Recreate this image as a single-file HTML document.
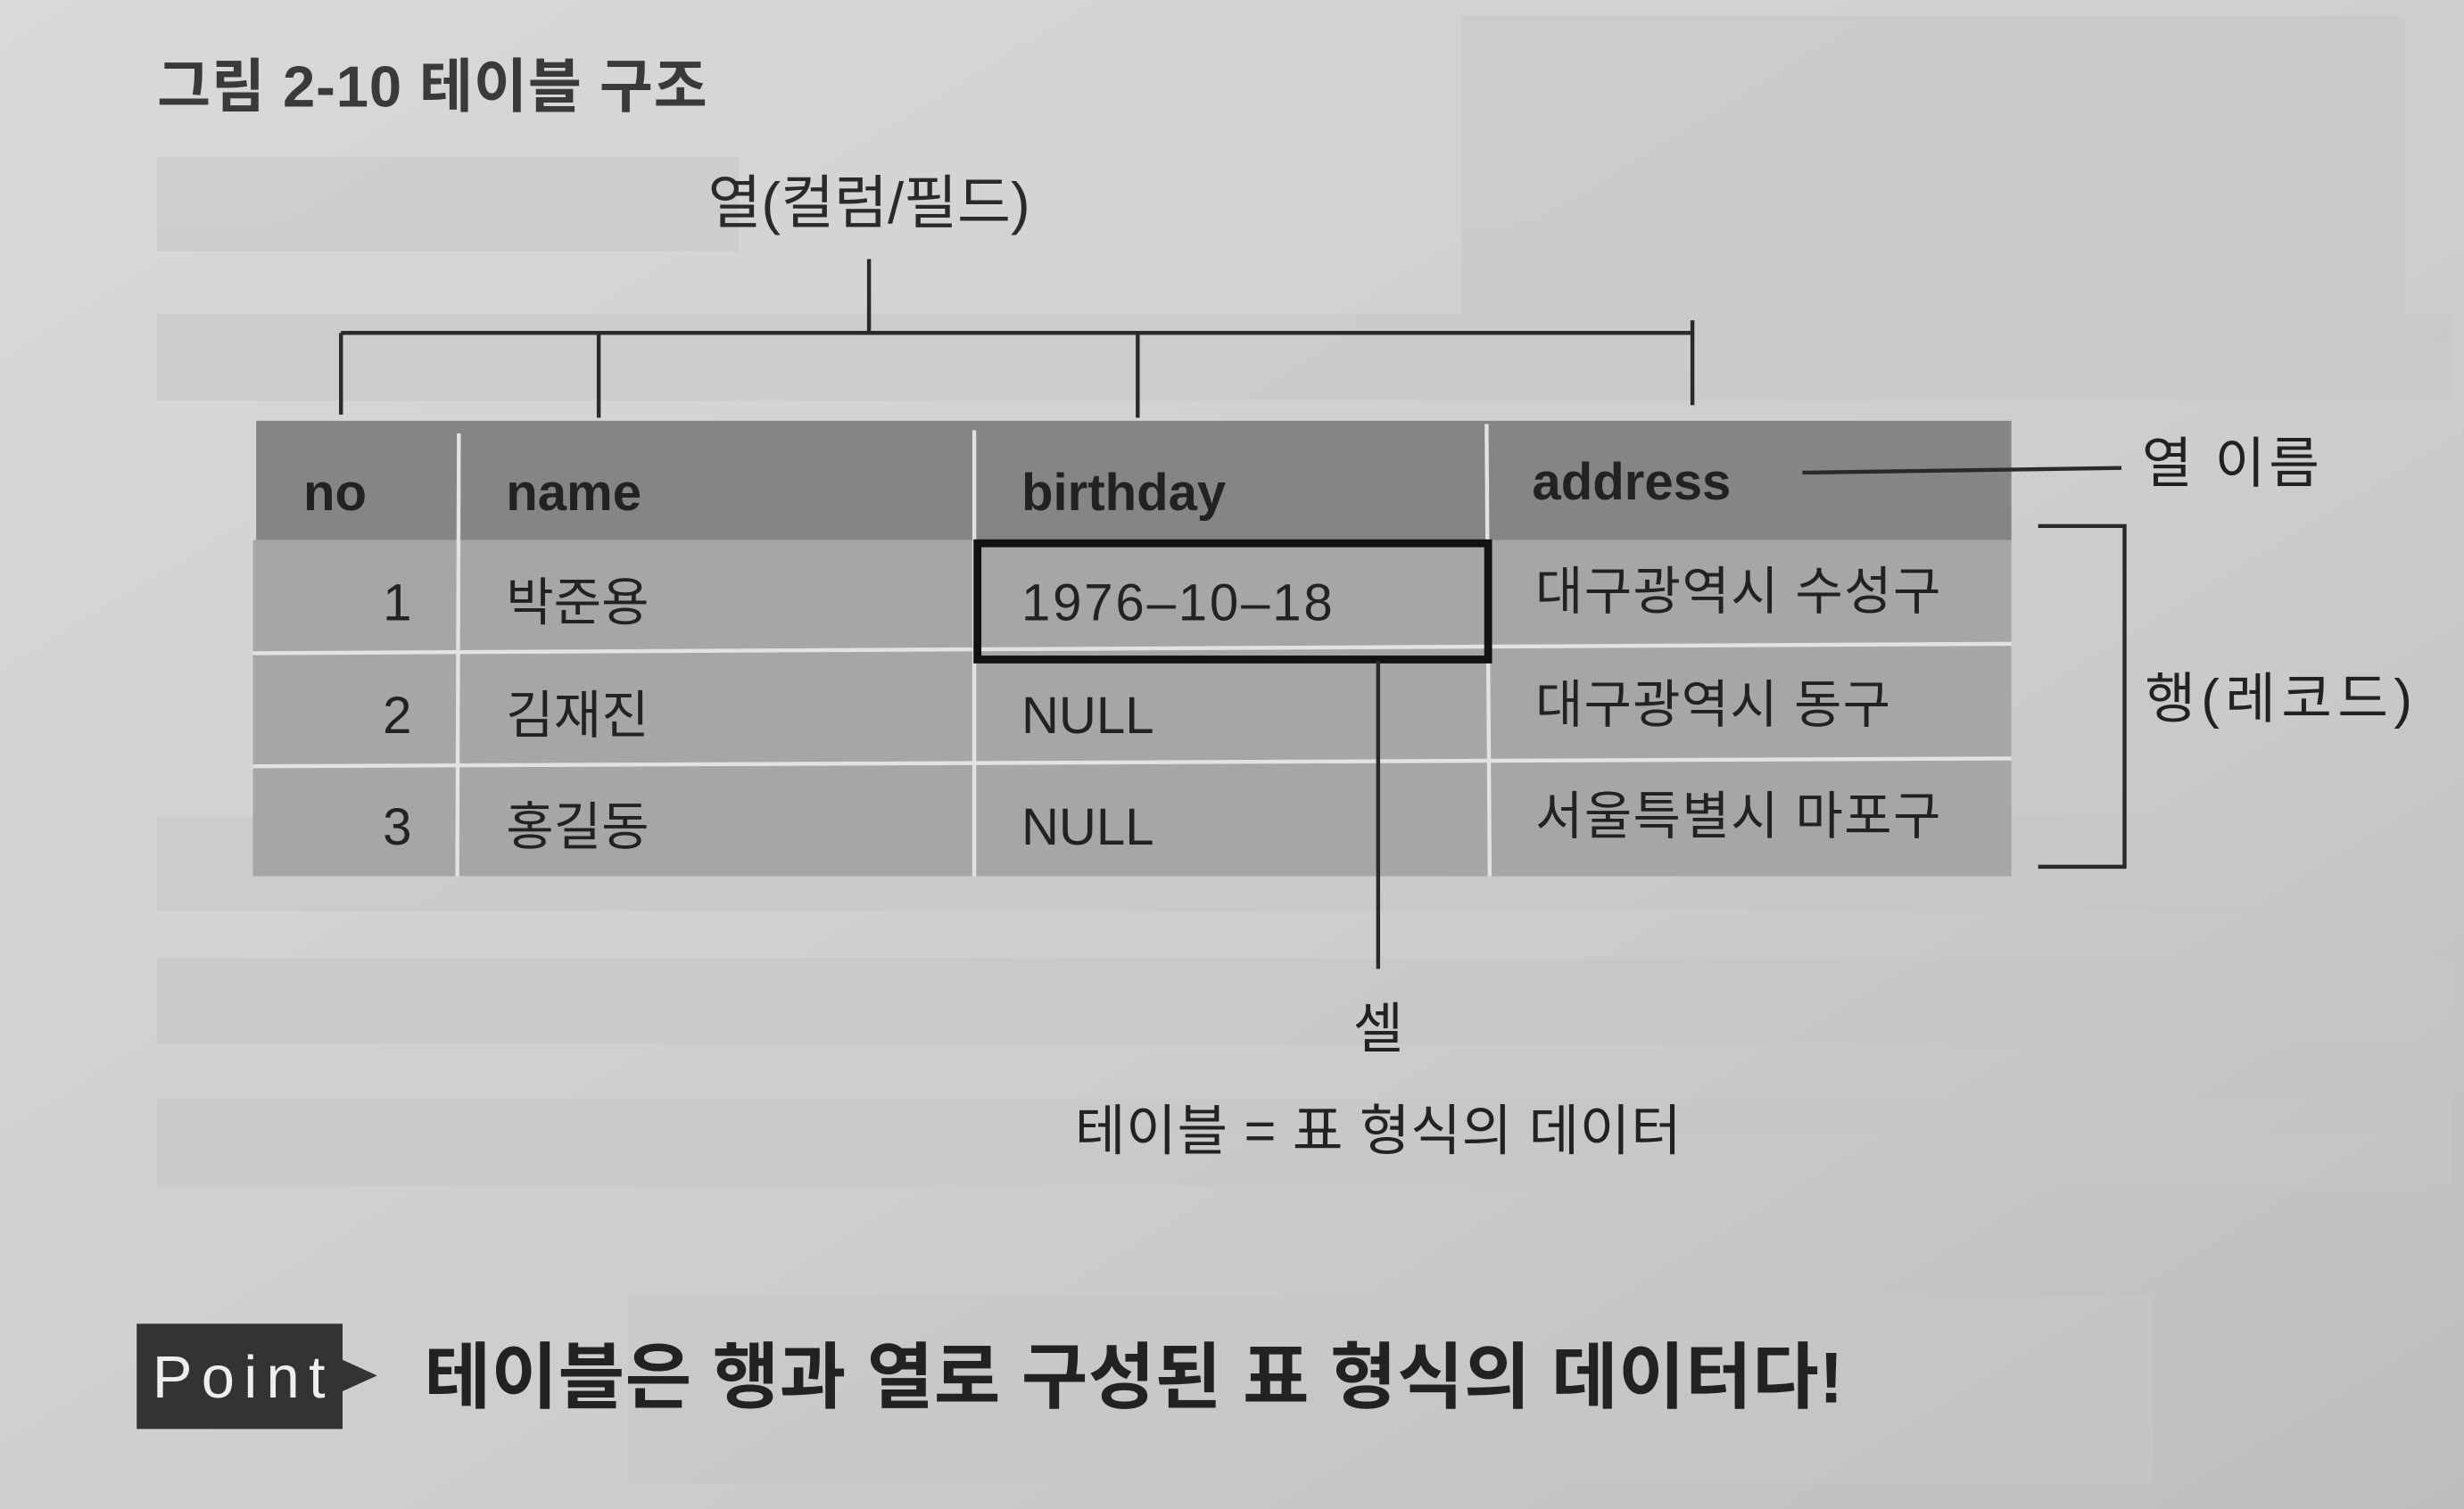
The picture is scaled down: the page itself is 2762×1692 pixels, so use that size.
<!DOCTYPE html>
<html><head><meta charset="utf-8">
<style>
html,body{margin:0;padding:0;width:2762px;height:1692px;overflow:hidden;background:#cfcfcf}
svg{display:block}
text{font-family:"Liberation Sans","Noto Sans CJK KR",sans-serif}
</style></head>
<body>
<svg width="2762" height="1692" viewBox="0 0 1568 961" preserveAspectRatio="none">
<defs>
<linearGradient id="bg" x1="0" y1="0" x2="1" y2="1">
<stop offset="0" stop-color="#d9d9d9"/><stop offset="0.6" stop-color="#cdcdcd"/><stop offset="1" stop-color="#bdbdbd"/>
</linearGradient>
</defs>
<rect x="0" y="0" width="1568" height="961" fill="url(#bg)"/>
<g fill="#c6c6c6" opacity="0.55">
<rect x="100" y="100" width="370" height="60"/><rect x="930" y="10" width="600" height="190"/>
<rect x="100" y="200" width="1460" height="55"/><rect x="100" y="520" width="1460" height="60"/>
<rect x="100" y="610" width="1460" height="55"/><rect x="100" y="700" width="1460" height="55"/>
<rect x="400" y="825" width="970" height="120"/>
</g>
<text x="100" y="68" font-size="37" font-weight="bold" fill="#3a3a3a" textLength="350">그림 2-10 테이블 구조</text>
<text x="553" y="142" font-size="37" fill="#2a2a2a" text-anchor="middle">열(컬럼/필드)</text>
<g stroke="#2a2a2a" stroke-width="2.5" fill="none">
<path d="M553 165 V212 M217 212 H1077 M217 212 V264 M381 212 V266 M724 212 V266 M1077 204 V258"/>
</g>
<g>
<rect x="163" y="268" width="1117" height="76" fill="#858585"/>
<rect x="161" y="344" width="1119" height="214" fill="#a6a6a6"/>
<g stroke="#e2e2e2" stroke-width="2.5">
<line x1="161" y1="416" x2="1280" y2="410"/><line x1="161" y1="488" x2="1280" y2="483"/>
<line x1="292" y1="276" x2="291" y2="558"/><line x1="620" y1="274" x2="620" y2="558"/><line x1="946" y1="270" x2="948" y2="558"/>
</g>
<g font-size="33" fill="#222">
<text x="193" y="325" font-weight="bold">no</text>
<text x="322" y="325" font-weight="bold">name</text>
<text x="650" y="325" font-weight="bold">birthday</text>
<text x="975" y="318" font-weight="bold">address</text>
<text x="262" y="395" text-anchor="end">1</text><text x="322" y="395">박준용</text><text x="650" y="395" textLength="198">1976–10–18</text><text x="977" y="388" textLength="258">대구광역시 수성구</text>
<text x="262" y="467" text-anchor="end">2</text><text x="322" y="467">김재진</text><text x="650" y="467">NULL</text><text x="977" y="460" textLength="226">대구광역시 동구</text>
<text x="262" y="538" text-anchor="end">3</text><text x="322" y="538">홍길동</text><text x="650" y="538">NULL</text><text x="977" y="531" textLength="258">서울특별시 마포구</text>
</g>
<rect x="622" y="346" width="325" height="74" fill="none" stroke="#111" stroke-width="5"/>
</g>
<g stroke="#2a2a2a" stroke-width="2.5" fill="none">
<line x1="1147" y1="301" x2="1350" y2="298"/>
<path d="M1297 335 H1352 V552 H1297"/>
<line x1="877" y1="421" x2="877" y2="617"/>
</g>
<text x="1363" y="307" font-size="35" fill="#222" textLength="113">열 이름</text>
<text x="1365" y="457" font-size="35" fill="#222" textLength="170">행(레코드)</text>
<text x="877" y="667" font-size="35" fill="#222" text-anchor="middle">셀</text>
<text x="684" y="732" font-size="35" fill="#222" textLength="386">테이블 = 표 형식의 데이터</text>
<g>
<path d="M87 843 H218 V866 L240 876 L218 886 V910 H87 Z" fill="#333"/>
<text x="97" y="890" font-size="38" fill="#eee" textLength="110">Point</text>
</g>
<text x="270" y="893" font-size="46" font-weight="bold" fill="#222" textLength="903">테이블은 행과 열로 구성된 표 형식의 데이터다!</text>
</svg>
</body></html>
